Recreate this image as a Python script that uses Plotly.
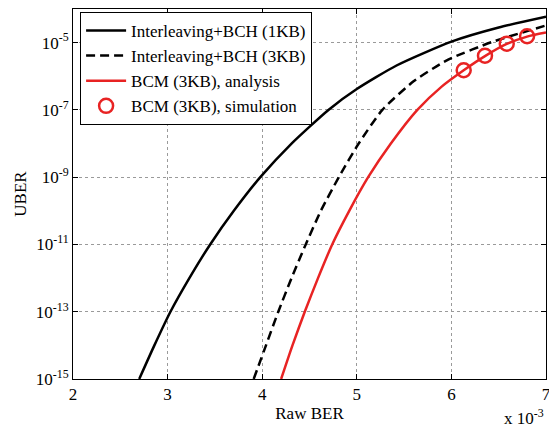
import plotly.graph_objects as go

# x values in units of 1e-3 (Raw BER); e_* are log10(UBER)
x_1kb = [2.70, 2.86, 3.03, 3.23, 3.45, 3.70, 3.98, 4.31, 4.70, 5.00, 5.42, 6.00, 6.50, 7.00]
e_1kb = [-15, -14, -13, -12, -11, -10, -9, -8, -7, -6.38, -5.68, -4.97, -4.55, -4.23]

x_3kb = [3.91, 4.04, 4.17, 4.31, 4.46, 4.62, 4.81, 5.02, 5.27, 5.60, 5.88, 6.00, 6.43, 7.00]
e_3kb = [-15, -14, -13, -12, -11, -10, -9, -8, -7, -6.15, -5.64, -5.46, -4.98, -4.49]

x_bcm = [4.20, 4.32, 4.45, 4.59, 4.74, 4.92, 5.12, 5.36, 5.64, 5.90, 6.13, 6.355, 6.585, 6.80, 7.00]
e_bcm = [-15, -14, -13, -12, -11, -10, -9, -8, -7, -6.30, -5.82, -5.40, -5.04, -4.82, -4.70]

x_sim = [6.13, 6.355, 6.585, 6.80]
e_sim = [-5.82, -5.39, -5.03, -4.81]

x_ticks = [2, 3, 4, 5, 6, 7]
y_exps = [-15, -13, -11, -9, -7, -5]

y_1kb = [10.0 ** e for e in e_1kb]
y_3kb = [10.0 ** e for e in e_3kb]
y_bcm = [10.0 ** e for e in e_bcm]
y_sim = [10.0 ** e for e in e_sim]

FONT = "Liberation Serif"
RED = "#e82323"

fig = go.Figure()
fig.add_trace(go.Scatter(x=x_1kb, y=y_1kb, mode="lines", name="Interleaving+BCH (1KB)",
                         line=dict(color="black", width=2.5, shape="spline", smoothing=0.6)))
fig.add_trace(go.Scatter(x=x_3kb, y=y_3kb, mode="lines", name="Interleaving+BCH (3KB)",
                         line=dict(color="black", width=2.5, dash="9px,5px", shape="spline", smoothing=0.6)))
fig.add_trace(go.Scatter(x=x_bcm, y=y_bcm, mode="lines", name="BCM (3KB), analysis",
                         line=dict(color=RED, width=2.5, shape="spline", smoothing=0.6)))
fig.add_trace(go.Scatter(x=x_sim, y=y_sim, mode="markers", name="BCM (3KB), simulation",
                         marker=dict(symbol="circle-open", size=14, color=RED, line=dict(width=2.5, color=RED))))

fig.update_layout(
    width=549, height=429,
    margin=dict(l=73, r=3, t=9, b=50),
    paper_bgcolor="white", plot_bgcolor="white",
    font=dict(family=FONT, size=17, color="black"),
    showlegend=True,
    legend=dict(x=0.015, y=0.992, xanchor="left", yanchor="top",
                bordercolor="black", borderwidth=1, bgcolor="white",
                font=dict(family=FONT, size=17), tracegroupgap=0, itemwidth=40),
)
fig.update_xaxes(
    range=[2, 7], tickvals=x_ticks, ticktext=[str(t) for t in x_ticks],
    ticks="inside", ticklen=5, tickcolor="black", mirror="ticks",
    showline=True, linecolor="black", linewidth=1,
    showgrid=True, gridcolor="#9a9a9a", griddash="dot", gridwidth=1,
    zeroline=False, ticklabeloverflow="allow", automargin=False,
    title=dict(text="Raw BER", font=dict(family=FONT, size=17), standoff=3),
    tickfont=dict(family=FONT, size=17),
)
fig.update_yaxes(
    type="log", range=[-15, -4],
    tickvals=[10.0 ** e for e in y_exps], ticktext=["10<sup>%d</sup>" % e for e in y_exps],
    ticks="inside", ticklen=5, tickcolor="black", mirror="ticks",
    showline=True, linecolor="black", linewidth=1,
    showgrid=True, gridcolor="#9a9a9a", griddash="dot", gridwidth=1,
    zeroline=False, automargin=False,
    title=dict(text="UBER", font=dict(family=FONT, size=17), standoff=4),
    tickfont=dict(family=FONT, size=17),
)
fig.add_annotation(text="x 10<sup>-3</sup>", xref="paper", yref="paper",
                   x=1.0, y=-0.137, xanchor="right", yanchor="bottom", showarrow=False,
                   font=dict(family=FONT, size=17))

fig.write_html("out.html", config={"displayModeBar": False},
               post_script="document.body.style.margin='0';document.body.style.padding='0';")
